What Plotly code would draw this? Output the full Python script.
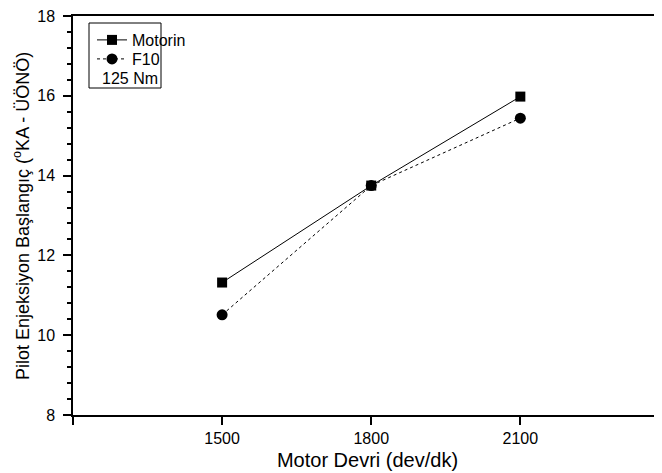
import plotly.graph_objects as go

speeds = [1500, 1800, 2100]
motorin = [11.32, 13.75, 15.98]
f10 = [10.51, 13.75, 15.44]
x_tickvals = [1500, 1800, 2100]
x_ticktext = ["1500", "1800", "2100"]
y_tickvals = [8, 10, 12, 14, 16, 18]

FONT = "Liberation Sans, Arial, sans-serif"

# page body has an 8px default margin; compensate so the plot lands where the reference has it
OFF = 8
W, H = 662 - OFF, 473 - OFF
L, R, T, B = 73 - OFF, 662 - OFF, 16 - OFF, 415 - OFF

def px(x):
    return (x - OFF - L) / (R - L)
def py(y):
    return (B - (y - OFF)) / (B - T)

fig = go.Figure()
fig.add_trace(go.Scatter(
    x=speeds, y=motorin, name="Motorin", mode="lines+markers",
    line=dict(color="black", width=1),
    marker=dict(symbol="square", size=10, color="black"),
    legend="legend",
))
fig.add_trace(go.Scatter(
    x=speeds, y=f10, name="F10", mode="lines+markers",
    line=dict(color="black", width=1, dash="3px,3px"),
    marker=dict(symbol="circle", size=11, color="black"),
    legend="legend2",
))

fig.add_shape(type="rect", xref="paper", yref="paper",
              x0=px(89), x1=px(161), y0=py(88), y1=py(23),
              line=dict(color="black", width=1))
fig.add_annotation(text="125 Nm", xref="paper", yref="paper",
                   x=px(100), y=py(78), xanchor="left", yanchor="middle",
                   showarrow=False, font=dict(family=FONT, size=16, color="black"))
fig.add_annotation(text="Pilot Enjeksiyon Başlangıç (<sup>o</sup>KA - ÜÖNÖ)",
                   xref="paper", yref="paper", x=px(21), y=py(216),
                   xanchor="center", yanchor="middle", textangle=-90,
                   showarrow=False, font=dict(family=FONT, size=18, color="black"))

leg_common = dict(xanchor="left", yanchor="middle", bgcolor="rgba(0,0,0,0)",
                  borderwidth=0, font=dict(family=FONT, size=16), itemwidth=30)

fig.update_layout(
    width=W, height=H,
    margin=dict(l=L, r=W - R, t=T, b=H - B),
    paper_bgcolor="white", plot_bgcolor="white",
    font=dict(family=FONT, color="black"),
    showlegend=True,
    legend=dict(x=px(92), y=py(40), **leg_common),
    legend2=dict(x=px(92), y=py(59), **leg_common),
    xaxis=dict(range=[1200, 2385], tickvals=x_tickvals, ticktext=x_ticktext,
               ticks="outside", ticklen=8, tickwidth=1.5, tickcolor="black",
               minor=dict(tickvals=[1200], ticks="outside", ticklen=8, tickwidth=1.5, tickcolor="black"),
               showline=True, linewidth=1.5, linecolor="black", mirror=True,
               showgrid=False, zeroline=False, automargin=False,
               tickfont=dict(size=16),
               title=dict(text="Motor Devri (dev/dk)", font=dict(size=20), standoff=7)),
    yaxis=dict(range=[8, 18], tickvals=y_tickvals,
               ticks="outside", ticklen=8, tickwidth=1.5, tickcolor="black",
               ticklabelstandoff=5, ticklabeloverflow="allow",
               minor=dict(dtick=0.4, tick0=8, ticks="outside", ticklen=4, tickwidth=1.5, tickcolor="black"),
               showline=True, linewidth=1.5, linecolor="black", mirror=False,
               showgrid=False, zeroline=False, automargin=False,
               tickfont=dict(size=16)),
)

fig.write_html("out.html")
